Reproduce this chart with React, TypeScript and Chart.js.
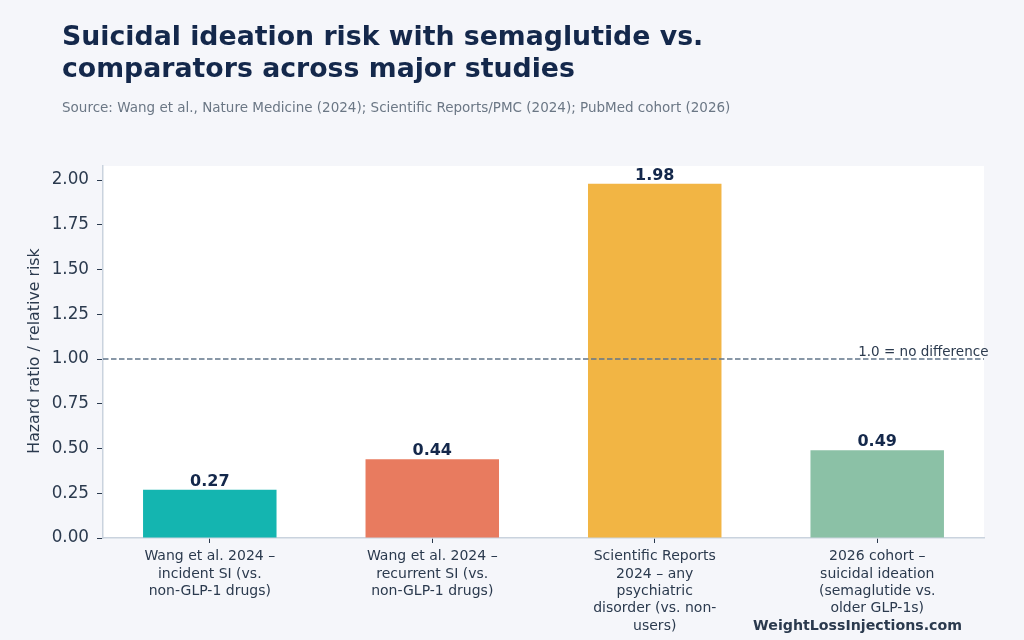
import React, { useEffect, useRef } from "react";
import { Chart, registerables } from "chart.js";

Chart.register(...registerables);

const studyLabels: string[][] = [
  ["Wang et al. 2024 –", "incident SI (vs.", "non-GLP-1 drugs)"],
  ["Wang et al. 2024 –", "recurrent SI (vs.", "non-GLP-1 drugs)"],
  ["Scientific Reports", "2024 – any", "psychiatric", "disorder (vs. non-", "users)"],
  ["2026 cohort –", "suicidal ideation", "(semaglutide vs.", "older GLP-1s)"],
];
const riskValues: number[] = [0.27, 0.44, 1.98, 0.49];
const barColors: string[] = ["#14b5b0", "#e87b5f", "#f2b544", "#8bc1a6"];
const yTickValues: number[] = [0, 0.25, 0.5, 0.75, 1.0, 1.25, 1.5, 1.75, 2.0];
const referenceValue = 1.0;

const titleLines = ["Suicidal ideation risk with semaglutide vs.", "comparators across major studies"];
const subtitleText =
  "Source: Wang et al., Nature Medicine (2024); Scientific Reports/PMC (2024); PubMed cohort (2026)";
const yAxisTitle = "Hazard ratio / relative risk";
const referenceLabel = "1.0 = no difference";
const watermarkText = "WeightLossInjections.com";

const FONT = "'DejaVu Sans', Verdana, sans-serif";
const NAVY = "#14284b";
const INK = "#2b3a4e";
const PAGE_BG = "#f5f6fa";
const SPINE = "#cad3de";

const decorPlugin = {
  id: "decor",
  beforeDraw(chart: any) {
    const { ctx, chartArea } = chart;
    ctx.save();
    ctx.fillStyle = PAGE_BG;
    ctx.fillRect(0, 0, chart.width, chart.height);
    ctx.fillStyle = "#ffffff";
    ctx.fillRect(chartArea.left, chartArea.top, chartArea.right - chartArea.left, chartArea.bottom - chartArea.top);
    ctx.restore();
  },
  afterDatasetsDraw(chart: any) {
    const { ctx, chartArea, scales } = chart;
    const x = scales.x;
    const y = scales.y;
    ctx.save();

    // reference line at HR = 1
    const yRef = y.getPixelForValue(referenceValue);
    ctx.strokeStyle = "#62758a";
    ctx.lineWidth = 1.4;
    ctx.setLineDash([5.5, 2.5]);
    ctx.beginPath();
    ctx.moveTo(chartArea.left, yRef);
    ctx.lineTo(chartArea.right, yRef);
    ctx.stroke();
    ctx.setLineDash([]);

    ctx.fillStyle = INK;
    ctx.font = `13.5px ${FONT}`;
    ctx.textAlign = "right";
    ctx.textBaseline = "alphabetic";
    ctx.fillText(referenceLabel, x.getPixelForValue(riskValues.length - 0.5), yRef - 3);

    // value labels above bars
    ctx.fillStyle = NAVY;
    ctx.font = `bold 16px ${FONT}`;
    ctx.textAlign = "center";
    riskValues.forEach((v, i) => {
      ctx.fillText(v.toFixed(2), x.getPixelForValue(i), y.getPixelForValue(v) - 4);
    });
    ctx.restore();
  },
  afterDraw(chart: any) {
    const { ctx } = chart;
    ctx.save();
    ctx.textBaseline = "alphabetic";
    ctx.textAlign = "left";
    ctx.fillStyle = NAVY;
    ctx.font = `bold 26.75px ${FONT}`;
    ctx.fillText(titleLines[0], 62, 45);
    ctx.fillText(titleLines[1], 62, 77);

    ctx.fillStyle = "#6b7785";
    ctx.font = `13.5px ${FONT}`;
    ctx.fillText(subtitleText, 62, 112);

    ctx.save();
    ctx.translate(39, 351);
    ctx.rotate(-Math.PI / 2);
    ctx.textAlign = "center";
    ctx.fillStyle = INK;
    ctx.font = `15.8px ${FONT}`;
    ctx.fillText(yAxisTitle, 0, 0);
    ctx.restore();

    ctx.textAlign = "right";
    ctx.fillStyle = "#2b3a4e";
    ctx.font = `bold 14.2px ${FONT}`;
    ctx.fillText(watermarkText, 962, 630);
    ctx.restore();
  },
};

export default function App() {
  const canvasRef = useRef<HTMLCanvasElement | null>(null);

  useEffect(() => {
    document.body.style.margin = "0";
    const canvas = canvasRef.current;
    if (!canvas) return;

    const n = riskValues.length;
    const barFrac = 0.6;
    const pad = (n - 1 + barFrac) * 0.05;
    const xMin = -barFrac / 2 - pad;
    const xMax = n - 1 + barFrac / 2 + pad;
    const yMax = Math.max(...riskValues) * 1.05;

    const chart = new Chart(canvas, {
      type: "bar",
      data: {
        datasets: [
          {
            data: riskValues.map((v, i) => ({ x: i, y: v })),
            backgroundColor: barColors,
            borderWidth: 0,
            categoryPercentage: 1,
            barPercentage: barFrac,
          },
        ],
      },
      plugins: [decorPlugin],
      options: {
        animation: false,
        responsive: false,
        maintainAspectRatio: false,
        devicePixelRatio: 1,
        layout: { padding: { left: 0, top: 166, right: 40, bottom: 0 } },
        plugins: {
          legend: { display: false },
          tooltip: { enabled: false },
          title: { display: false },
        },
        scales: {
          x: {
            type: "linear",
            offset: false,
            min: xMin,
            max: xMax,
            afterBuildTicks: (scale: any) => {
              scale.ticks = riskValues.map((_, i) => ({ value: i }));
            },
            afterFit: (scale: any) => {
              scale.height = 102;
            },
            grid: {
              display: true,
              offset: false,
              drawOnChartArea: false,
              drawTicks: true,
              tickLength: 5,
              color: "#2b3a4e",
            },
            border: { display: true, color: SPINE, width: 1.5 },
            ticks: {
              autoSkip: false,
              maxRotation: 0,
              minRotation: 0,
              padding: 5,
              color: INK,
              font: { family: FONT, size: 14, lineHeight: 1.24 },
              callback: (value: any) => studyLabels[value as number] ?? "",
            },
          },
          y: {
            min: 0,
            max: yMax,
            afterBuildTicks: (scale: any) => {
              scale.ticks = yTickValues.map((v) => ({ value: v }));
            },
            afterFit: (scale: any) => {
              scale.width = 103;
            },
            grid: {
              display: true,
              drawOnChartArea: false,
              drawTicks: true,
              tickLength: 6,
              color: "#2b3a4e",
            },
            border: { display: true, color: SPINE, width: 1.5 },
            ticks: {
              padding: 8,
              color: INK,
              font: { family: FONT, size: 16.8 },
              callback: (value: any) => Number(value).toFixed(2),
            },
          },
        },
      },
    });

    return () => chart.destroy();
  }, []);

  return (
    <div style={{ width: 1024, height: 640 }}>
      <canvas ref={canvasRef} width={1024} height={640} style={{ display: "block" }} />
    </div>
  );
}
